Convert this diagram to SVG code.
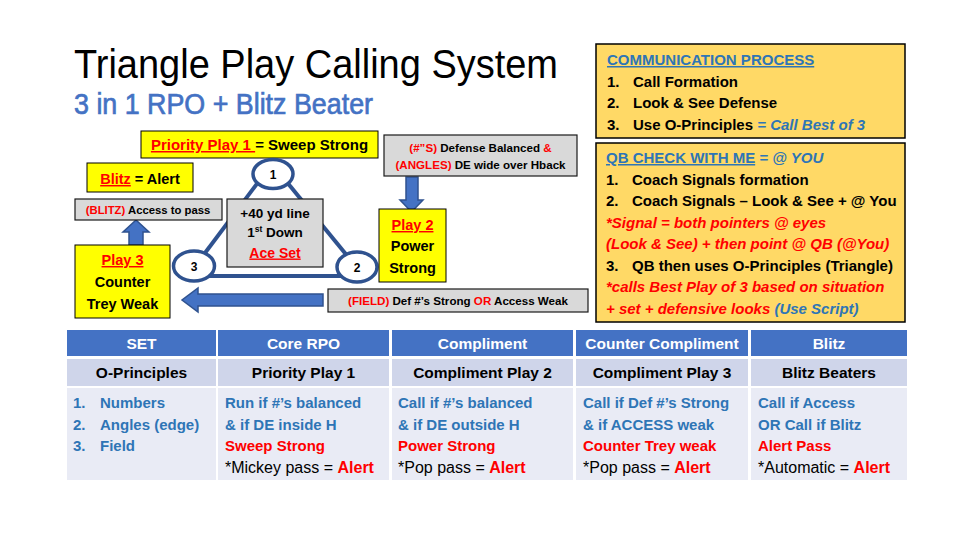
<svg xmlns="http://www.w3.org/2000/svg" width="960" height="540" viewBox="0 0 960 540">
<style>
text{font-family:"Liberation Sans",Arial,sans-serif;fill:#000}
.b{font-weight:bold}
.r{fill:#FF0000}
.t{fill:#2E75B6}
.w{fill:#fff}
.u{text-decoration:underline}
.i{font-style:italic}
.n{font-weight:normal}
.yel{fill:#FFFF00;stroke:#000;stroke-width:1}
.gry{fill:#D9D9D9;stroke:#1a1a1a;stroke-width:1.2}
.gold{fill:#FFD966;stroke:#000;stroke-width:1.5}
.arw{fill:#4472C4;stroke:#2F528F;stroke-width:1.5}
.tri{stroke:#2F528F;stroke-width:4;fill:none}
.cir{fill:#fff;stroke:#2F528F;stroke-width:3.5}
.h{fill:#4472C4}
.r2{fill:#CFD5EA}
.r3{fill:#E9EBF5}
.m{text-anchor:middle}
</style>
<rect width="960" height="540" fill="#fff"/>

<g id="title">
<text x="74" y="78" font-size="40" textLength="484" lengthAdjust="spacingAndGlyphs">Triangle Play Calling System</text>
</g>
<g id="subtitle">
<text x="74" y="114" font-size="30" textLength="299" lengthAdjust="spacingAndGlyphs" style="fill:#4472C4;stroke:#4472C4;stroke-width:0.7">3 in 1 RPO + Blitz Beater</text>
</g>

<g id="connectors">
<line class="tri" x1="259" y1="181" x2="202" y2="257"/>
<line class="tri" x1="286" y1="181" x2="349" y2="258"/>
<line class="tri" x1="205" y1="276" x2="345" y2="276"/>
<polygon class="arw" points="129,245 143,245 143,232 149,232 136,220 123,232 129,232"/>
<polygon class="arw" points="406,177 418,177 418,200 423,200 411.5,212 400,200 406,200"/>
<polygon class="arw" points="323,294 323,306 198,306 198,312 182,300 198,288 198,294"/>
</g>

<g id="priority">
<rect class="yel" x="141" y="131" width="237" height="27"/>
<text class="b m" x="259.5" y="150" font-size="15"><tspan class="r u">Priority Play 1 </tspan>= Sweep Strong</text>
</g>

<g id="defense">
<rect class="gry" x="384" y="135" width="193" height="41"/>
<text class="b m" x="480.5" y="152" font-size="11.6"><tspan class="r">(#”S)</tspan> Defense Balanced <tspan class="r">&amp;</tspan></text>
<text class="b m" x="480.5" y="168.5" font-size="11.6"><tspan class="r">(ANGLES)</tspan> DE wide over Hback</text>
</g>

<g id="blitz-alert">
<rect class="yel" x="87" y="163" width="106" height="29"/>
<text class="b m" x="140" y="184" font-size="14.5"><tspan class="r u">Blitz</tspan> = Alert</text>
</g>

<g id="blitz-access">
<rect class="gry" x="75" y="199" width="147" height="21"/>
<text class="b m" x="148" y="213.5" font-size="11.3"><tspan class="r">(BLITZ)</tspan> Access to pass</text>
</g>

<g id="play3">
<rect class="yel" x="75" y="245" width="95" height="73"/>
<text class="b m r u" x="122.5" y="265" font-size="14.5">Play 3</text>
<text class="b m" x="122.5" y="287" font-size="14.5">Counter</text>
<text class="b m" x="122.5" y="308.5" font-size="14.5">Trey Weak</text>
</g>

<g id="circle1">
<ellipse class="cir" cx="273" cy="174" rx="20" ry="14.5"/>
<text class="b m" x="273" y="178.5" font-size="12">1</text>
</g>
<g id="circle3">
<ellipse class="cir" cx="194" cy="266" rx="20.5" ry="15"/>
<text class="b m" x="194" y="270.5" font-size="12">3</text>
</g>
<g id="circle2">
<ellipse class="cir" cx="357" cy="267" rx="20" ry="15"/>
<text class="b m" x="357" y="271.5" font-size="12">2</text>
</g>

<g id="center">
<rect class="gry" x="227" y="199" width="96" height="68"/>
<text class="b m" x="275" y="218" font-size="13.5">+40 yd line</text>
<text class="b m" x="275" y="237" font-size="13.5">1<tspan font-size="8.5" dy="-5">st</tspan><tspan dy="5"> Down</tspan></text>
<text class="b m r u" x="275" y="257.5" font-size="14">Ace Set</text>
</g>

<g id="play2">
<rect class="yel" x="379" y="209" width="67" height="73"/>
<text class="b m r u" x="412.5" y="230" font-size="14.5">Play 2</text>
<text class="b m" x="412.5" y="251" font-size="14.5">Power</text>
<text class="b m" x="412.5" y="272.5" font-size="14.5">Strong</text>
</g>

<g id="field">
<rect class="gry" x="328" y="289" width="260" height="23"/>
<text class="b m" x="458" y="304.5" font-size="11.6"><tspan class="r">(FIELD)</tspan> Def #’s Strong <tspan class="r">OR</tspan> Access Weak</text>
</g>

<g id="communication">
<rect class="gold" x="596" y="44" width="309" height="94"/>
<text class="b t u" x="607" y="65" font-size="15">COMMUNICATION PROCESS</text>
<text class="b" y="86.5" font-size="15"><tspan x="607">1.</tspan><tspan x="633">Call Formation</tspan></text>
<text class="b" y="108" font-size="15"><tspan x="607">2.</tspan><tspan x="633">Look &amp; See Defense</tspan></text>
<text class="b" y="129.5" font-size="15"><tspan x="607">3.</tspan><tspan x="633">Use O-Principles <tspan class="t i">= Call Best of 3</tspan></tspan></text>
</g>

<g id="qb-check">
<rect class="gold" x="596" y="143" width="309" height="179"/>
<text class="b" x="606" y="163" font-size="15"><tspan class="t u">QB CHECK WITH ME</tspan><tspan class="t i"> = @ YOU</tspan></text>
<text class="b" y="184.5" font-size="15"><tspan x="606">1.</tspan><tspan x="632">Coach Signals formation</tspan></text>
<text class="b" y="206" font-size="15"><tspan x="606">2.</tspan><tspan x="632">Coach Signals – Look &amp; See + @ You</tspan></text>
<text class="b r i" x="606" y="227.5" font-size="15">*Signal = both pointers @ eyes</text>
<text class="b r i" x="606" y="249" font-size="15">(Look &amp; See) + then point @ QB (@You)</text>
<text class="b" y="270.5" font-size="15"><tspan x="606">3.</tspan><tspan x="632">QB then uses O-Principles (Triangle)</tspan></text>
<text class="b r i" x="606" y="292" font-size="15">*calls Best Play of 3 based on situation</text>
<text class="b r i" x="606" y="313.5" font-size="15">+ set + defensive looks <tspan class="t">(Use Script)</tspan></text>
</g>

<g id="table">
<g id="header-row">
<rect class="h" x="67" y="330" width="149" height="26"/>
<rect class="h" x="218" y="330" width="171" height="26"/>
<rect class="h" x="392" y="330" width="181" height="26"/>
<rect class="h" x="576" y="330" width="172" height="26"/>
<rect class="h" x="751" y="330" width="156" height="26"/>
<text class="b m w" x="141.5" y="349" font-size="15.5">SET</text>
<text class="b m w" x="303.5" y="349" font-size="15.5">Core RPO</text>
<text class="b m w" x="482.5" y="349" font-size="15.5">Compliment</text>
<text class="b m w" x="662" y="349" font-size="15.5">Counter Compliment</text>
<text class="b m w" x="829" y="349" font-size="15.5">Blitz</text>
</g>
<g id="row-2">
<rect class="r2" x="67" y="359" width="149" height="27"/>
<rect class="r2" x="218" y="359" width="171" height="27"/>
<rect class="r2" x="392" y="359" width="181" height="27"/>
<rect class="r2" x="576" y="359" width="172" height="27"/>
<rect class="r2" x="751" y="359" width="156" height="27"/>
<text class="b m" x="141.5" y="378" font-size="15.5">O-Principles</text>
<text class="b m" x="303.5" y="378" font-size="15.5">Priority Play 1</text>
<text class="b m" x="482.5" y="378" font-size="15.5">Compliment Play 2</text>
<text class="b m" x="662" y="378" font-size="15.5">Compliment Play 3</text>
<text class="b m" x="829" y="378" font-size="15.5">Blitz Beaters</text>
</g>
<g id="row-3">
<rect class="r3" x="67" y="388" width="149" height="92"/>
<rect class="r3" x="218" y="388" width="171" height="92"/>
<rect class="r3" x="392" y="388" width="181" height="92"/>
<rect class="r3" x="576" y="388" width="172" height="92"/>
<rect class="r3" x="751" y="388" width="156" height="92"/>
<g id="cell-set">
<text class="b t" y="408" font-size="15"><tspan x="73">1.</tspan><tspan x="100">Numbers</tspan></text>
<text class="b t" y="429.5" font-size="15"><tspan x="73">2.</tspan><tspan x="100">Angles (edge)</tspan></text>
<text class="b t" y="451" font-size="15"><tspan x="73">3.</tspan><tspan x="100">Field</tspan></text>
</g>
<g id="cell-core">
<text class="b t" x="225" y="408" font-size="15">Run if #’s balanced</text>
<text class="b t" x="225" y="429.5" font-size="15">&amp; if DE inside H</text>
<text class="b r" x="225" y="451" font-size="15">Sweep Strong</text>
<text x="225" y="472.5" font-size="16">*Mickey pass = <tspan class="b r">Alert</tspan></text>
</g>
<g id="cell-compliment">
<text class="b t" x="398" y="408" font-size="15">Call if #’s balanced</text>
<text class="b t" x="398" y="429.5" font-size="15">&amp; if DE outside H</text>
<text class="b r" x="398" y="451" font-size="15">Power Strong</text>
<text x="398" y="472.5" font-size="16">*Pop pass = <tspan class="b r">Alert</tspan></text>
</g>
<g id="cell-counter">
<text class="b t" x="583" y="408" font-size="15">Call if Def #’s Strong</text>
<text class="b t" x="583" y="429.5" font-size="15">&amp; if ACCESS weak</text>
<text class="b r" x="583" y="451" font-size="15">Counter Trey weak</text>
<text x="583" y="472.5" font-size="16">*Pop pass = <tspan class="b r">Alert</tspan></text>
</g>
<g id="cell-blitz">
<text class="b t" x="758" y="408" font-size="15">Call if Access</text>
<text class="b t" x="758" y="429.5" font-size="15">OR Call if Blitz</text>
<text class="b r" x="758" y="451" font-size="15">Alert Pass</text>
<text x="758" y="472.5" font-size="16">*Automatic = <tspan class="b r">Alert</tspan></text>
</g>
</g>
</g>
</svg>
